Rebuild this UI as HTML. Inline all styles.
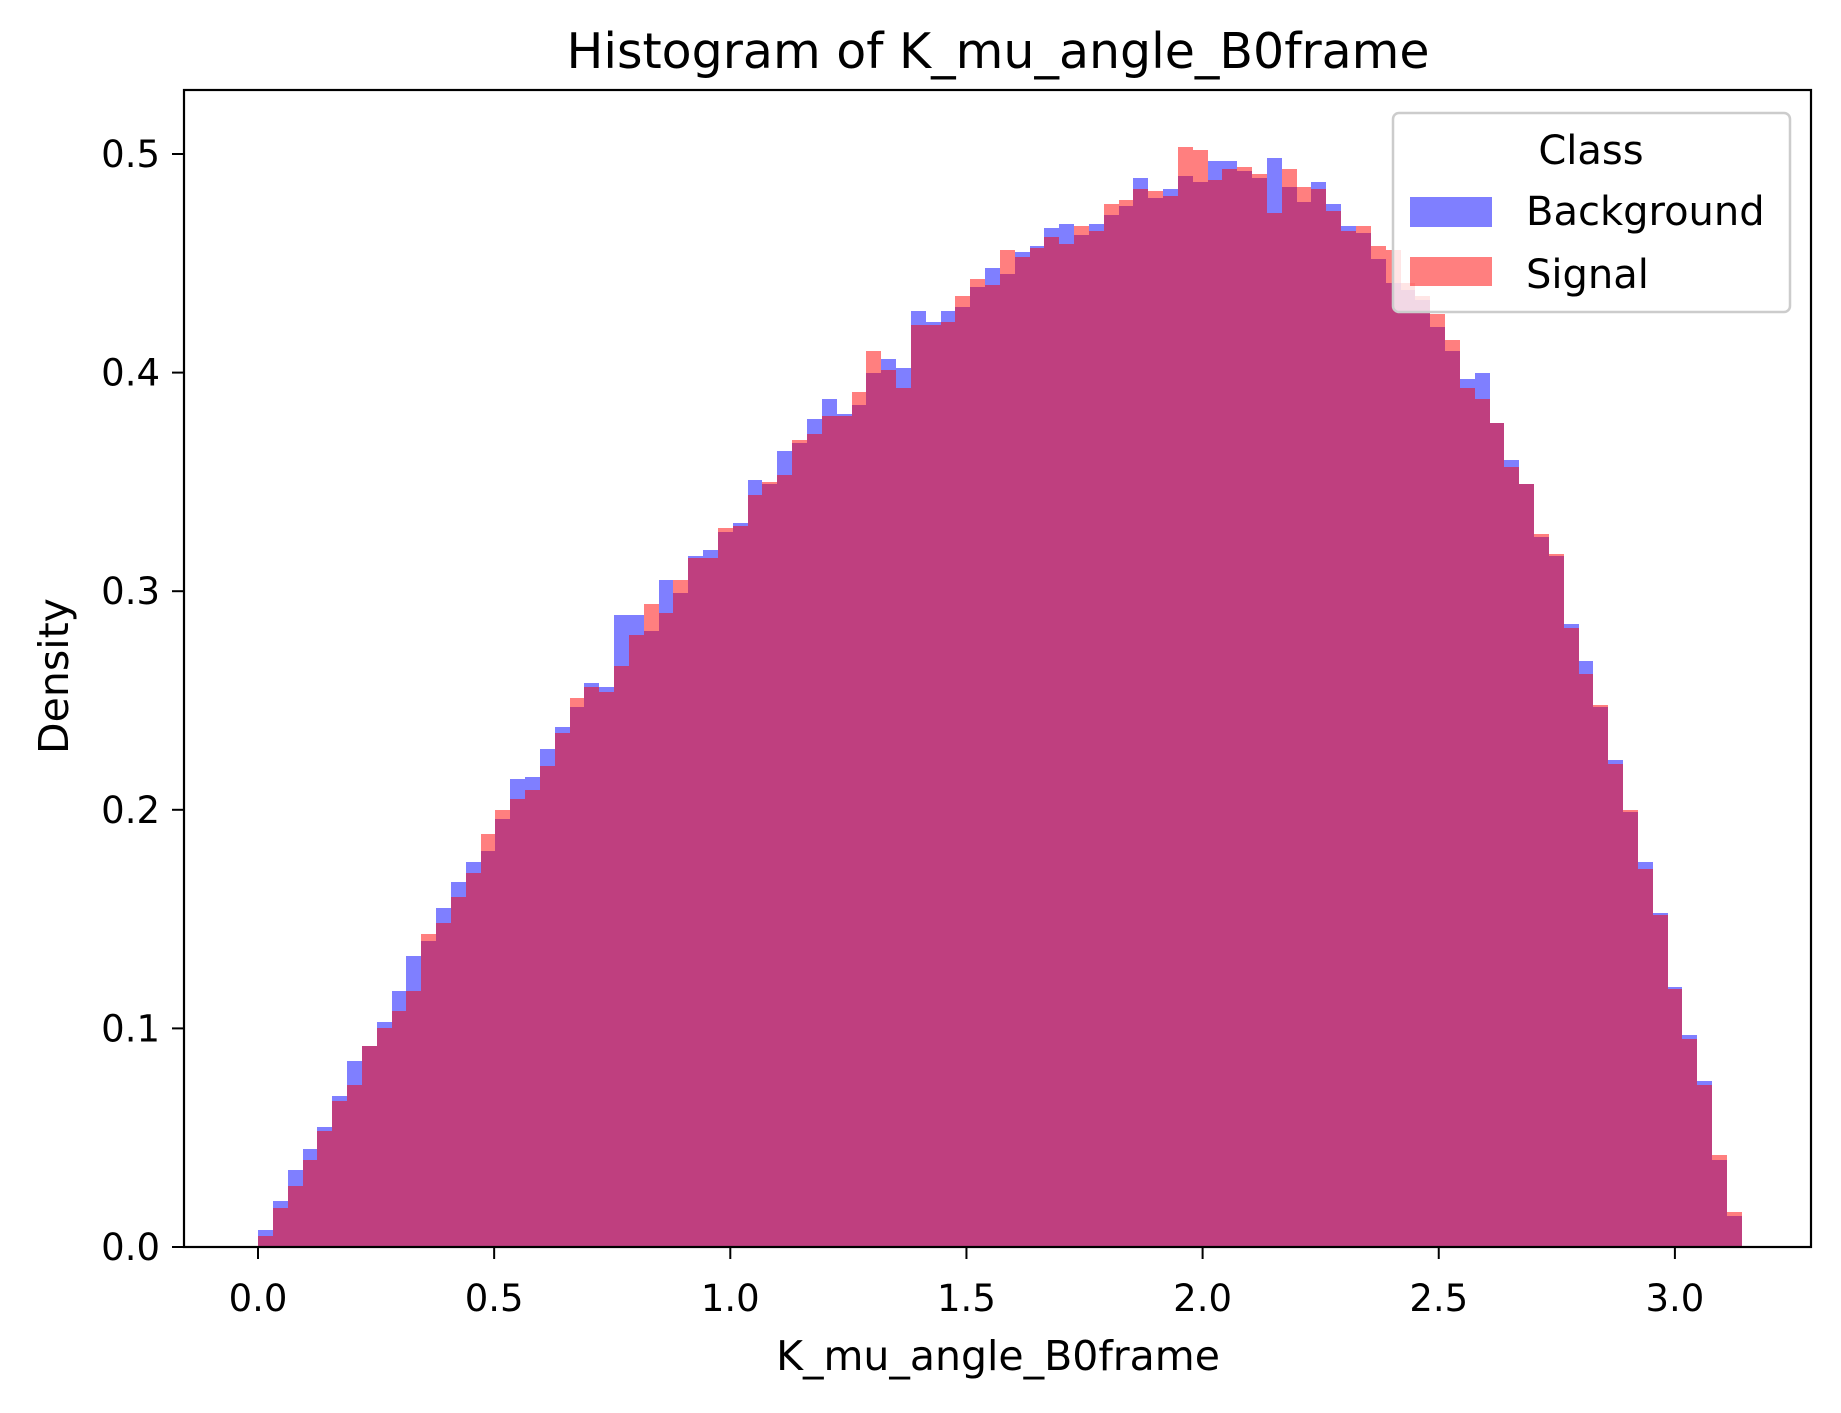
<!DOCTYPE html>
<html><head><meta charset="utf-8"><style>
html,body{margin:0;padding:0;background:#fff;}
svg text{font-family:"DejaVu Sans","Liberation Sans",sans-serif;fill:#000;}
</style></head><body>
<svg id="chart" width="1841" height="1408" xmlns="http://www.w3.org/2000/svg">
<rect width="1841" height="1408" fill="#fff"/>
<text x="998" y="68" font-size="49" text-anchor="middle">Histogram of K_mu_angle_B0frame</text>
<g id="bars-bg" shape-rendering="crispEdges"></g>
<g id="bars-sig" shape-rendering="crispEdges"></g>
<rect x="184" y="90" width="1627" height="1157" fill="none" stroke="#000" stroke-width="2.2"/>
<g id="xticks"></g>
<g id="yticks"></g>
<text x="998" y="1370" font-size="41" text-anchor="middle">K_mu_angle_B0frame</text>
<text x="0" y="0" font-size="41" text-anchor="middle" transform="translate(68,676) rotate(-90)">Density</text>
<g>
<rect x="1393" y="113" width="397" height="199" rx="6" fill="rgba(255,255,255,0.8)" stroke="#ccc" stroke-width="2.5"/>
<text x="1591" y="164" font-size="40" text-anchor="middle">Class</text>
<rect x="1410" y="197" width="82" height="30" fill="rgba(0,0,255,0.5)"/>
<text x="1526" y="225" font-size="40">Background</text>
<rect x="1410" y="257" width="82" height="29" fill="rgba(255,0,0,0.5)"/>
<text x="1526" y="288" font-size="40">Signal</text>
</g>
</svg>
<script>
const binStart = 0, binEnd = 3.14159, nBins = 100;
const background = [0.008,0.021,0.035,0.045,0.055,0.069,0.085,0.092,0.103,0.117,0.133,0.140,0.155,0.167,0.176,0.181,0.196,0.214,0.215,0.228,0.238,0.247,0.258,0.256,0.289,0.289,0.282,0.305,0.299,0.316,0.319,0.327,0.331,0.351,0.349,0.364,0.368,0.379,0.388,0.381,0.385,0.400,0.406,0.402,0.428,0.423,0.428,0.430,0.439,0.448,0.445,0.455,0.458,0.466,0.468,0.463,0.468,0.472,0.476,0.489,0.480,0.484,0.490,0.487,0.497,0.497,0.492,0.489,0.498,0.485,0.478,0.487,0.477,0.467,0.464,0.452,0.441,0.438,0.433,0.421,0.410,0.397,0.400,0.377,0.360,0.349,0.325,0.316,0.285,0.268,0.247,0.223,0.199,0.176,0.153,0.119,0.097,0.076,0.040,0.014];
const signal = [0.005,0.018,0.028,0.040,0.053,0.067,0.074,0.092,0.100,0.108,0.117,0.143,0.148,0.160,0.171,0.189,0.200,0.205,0.209,0.220,0.235,0.251,0.256,0.254,0.266,0.280,0.294,0.290,0.305,0.315,0.315,0.329,0.330,0.344,0.350,0.353,0.369,0.372,0.380,0.380,0.391,0.410,0.401,0.393,0.422,0.422,0.423,0.435,0.443,0.440,0.456,0.453,0.457,0.462,0.459,0.467,0.465,0.477,0.479,0.484,0.483,0.481,0.503,0.502,0.488,0.493,0.494,0.491,0.473,0.493,0.485,0.484,0.474,0.465,0.467,0.458,0.456,0.441,0.435,0.427,0.415,0.393,0.388,0.377,0.357,0.349,0.326,0.317,0.283,0.262,0.248,0.221,0.200,0.173,0.152,0.118,0.095,0.074,0.042,0.016];
const xTickValues = [0.0,0.5,1.0,1.5,2.0,2.5,3.0];
const xTickLabels = ["0.0","0.5","1.0","1.5","2.0","2.5","3.0"];
const yTickValues = [0.0,0.1,0.2,0.3,0.4,0.5];
const yTickLabels = ["0.0","0.1","0.2","0.3","0.4","0.5"];

const NS = "http://www.w3.org/2000/svg";
function xScale(v){ return 258 + v * 472.3; }
function yScale(v){ return 1247 - v * 2186; }
function mk(tag, attrs, parent){ const e = document.createElementNS(NS, tag); for (const k in attrs) e.setAttribute(k, attrs[k]); parent.appendChild(e); return e; }
const w = (binEnd - binStart) / nBins;
function drawSeries(vals, gid, color, name){
  const g = document.getElementById(gid);
  vals.forEach((v,i)=>{
    const x0 = Math.round(xScale(binStart + i*w)), x1 = Math.round(xScale(binStart + (i+1)*w));
    const y0 = Math.round(yScale(v));
    const r = mk('rect', {x:x0, y:y0, width:x1-x0, height:1247-y0, fill:color}, g);
    
    
  });
}
drawSeries(background, 'bars-bg', 'rgba(0,0,255,0.5)', 'background-bar');
drawSeries(signal, 'bars-sig', 'rgba(255,0,0,0.5)', 'signal-bar');
const xg = document.getElementById('xticks');
xTickValues.forEach((v,i)=>{
  const x = xScale(v);
  const t = mk('line', {x1:x, x2:x, y1:1247, y2:1259, stroke:'#000', 'stroke-width':2}, xg);
  
  
  const l = mk('text', {x:x, y:1311, 'font-size':37, 'text-anchor':'middle'}, xg);
  l.textContent = xTickLabels[i];
  
  
});
const yg = document.getElementById('yticks');
yTickValues.forEach((v,i)=>{
  const y = yScale(v);
  const t = mk('line', {x1:172, x2:184, y1:y, y2:y, stroke:'#000', 'stroke-width':2}, yg);
  
  
  const l = mk('text', {x:160, y:y+13, 'font-size':37, 'text-anchor':'end'}, yg);
  l.textContent = yTickLabels[i];
  
  
});
</script>
</body></html>
